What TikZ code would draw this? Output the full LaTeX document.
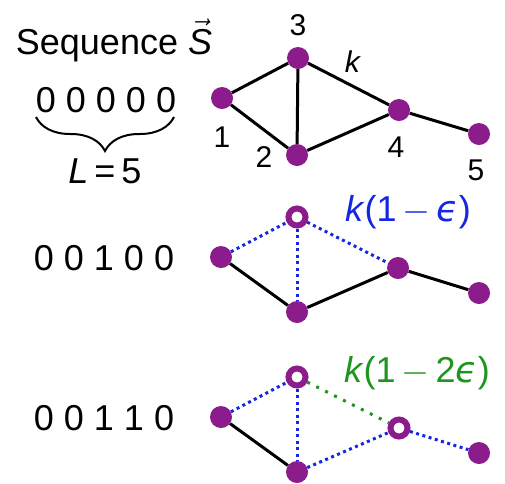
\RequirePackage{fix-cm}
\documentclass[tikz,border=0pt]{standalone}
\usepackage{fontspec}
\setmainfont{Liberation Sans}
\setsansfont{Liberation Sans}
\newfontfamily\dejavu{DejaVu Sans}
\usetikzlibrary{decorations.pathreplacing}
\definecolor{vert}{RGB}{140,28,140}
\definecolor{eblue}{RGB}{20,40,225}
\definecolor{egreen}{RGB}{30,150,30}
\newcommand{\eps}{{\dejavu\itshape ϵ}}
\newcommand{\mminus}{\,$-$\,}
\begin{document}
\begin{tikzpicture}[x=1pt,y=-1pt,
  dot/.style={circle,fill=vert,minimum size=22pt,inner sep=0pt},
  ring/.style={circle,draw=vert,line width=6pt,fill=white,minimum size=17pt,inner sep=0pt},
  lbl/.style={font=\fontsize{30}{36}\selectfont,inner sep=0pt,anchor=base},
  big/.style={font=\fontsize{36}{42}\selectfont,inner sep=0pt,anchor=base},
  klbl/.style={font=\fontsize{36}{42}\selectfont,inner sep=0pt,anchor=center},
  solidedge/.style={line width=3pt,black},
  bdot/.style={line width=3pt,eblue,dash pattern=on 3pt off 3.5pt},
  gdot/.style={line width=3pt,egreen,dash pattern=on 3pt off 7pt}]
\useasboundingbox (0,0) rectangle (505,483);
% left texts
\node[big] (seq) at (114,54) {Sequence $\vec{\textit{S}}$};
\node[big] (s0) at (106,112) {0 0 0 0 0};
\coordinate (bl) at (36,117);
\coordinate (br) at (174,117);
\draw[line width=2pt,decorate,decoration={brace,mirror,amplitude=34pt}] (bl) -- (br);
\node[big] (Lt) at (105,183) {\textit{L}\,=\,5};
\node[big] (s1) at (104,270) {0 0 1 0 0};
\node[big] (s2) at (104,430) {0 0 1 1 0};
% graph 1
\node[dot] (a1) at (222,98) {};
\node[dot] (a3) at (298,58) {};
\node[dot] (a2) at (297,155) {};
\node[dot] (a4) at (399,110) {};
\node[dot] (a5) at (479,134) {};
\draw[solidedge] (a1) -- (a3);
\draw[solidedge] (a1) -- (a2);
\draw[solidedge] (a3) -- (a2);
\draw[solidedge] (a3) -- (a4);
\draw[solidedge] (a2) -- (a4);
\draw[solidedge] (a4) -- (a5);
\node[lbl] (l3) at (298,35) {3};
\node[lbl] (lk) at (353,72) {\textit{k}};
\node[lbl] (l1) at (222,147) {1};
\node[lbl] (l2) at (264,167) {2};
\node[lbl] (l4) at (396,157) {4};
\node[lbl] (l5) at (476,180) {5};
% graph 2
\node[dot] (b1) at (221,257) {};
\node[ring] (b3) at (297,217) {};
\node[dot] (b2) at (297,312) {};
\node[dot] (b4) at (398,268) {};
\node[dot] (b5) at (479,293) {};
\draw[bdot] (b1) -- (b3);
\draw[bdot] (b3) -- (b2);
\draw[bdot] (b3) -- (b4);
\draw[solidedge] (b1) -- (b2);
\draw[solidedge] (b2) -- (b4);
\draw[solidedge] (b4) -- (b5);
\node[klbl,eblue] (lb) at (408,212) {\textit{k}(1\mminus\eps)};
% graph 3
\node[dot] (c1) at (221,417) {};
\node[ring] (c3) at (297,377) {};
\node[dot] (c2) at (297,472) {};
\node[ring] (c4) at (399,428) {};
\node[dot] (c5) at (479,453) {};
\draw[bdot] (c1) -- (c3);
\draw[bdot] (c3) -- (c2);
\draw[gdot] (c3) -- (c4);
\draw[solidedge] (c1) -- (c2);
\draw[bdot] (c2) -- (c4);
\draw[bdot] (c4) -- (c5);
\node[klbl,egreen] (lc) at (417,373) {\textit{k}(1\mminus2\eps)};
\end{tikzpicture}
\end{document}
